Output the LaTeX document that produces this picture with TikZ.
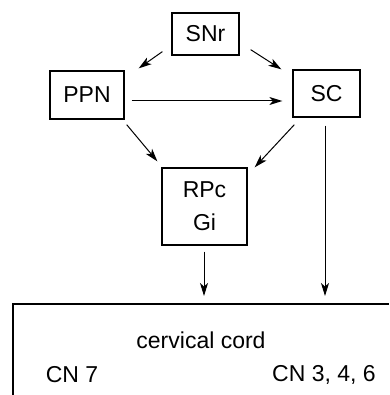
\documentclass[tikz,border=0pt]{standalone}
\usepackage{fontspec}
\setmainfont{Liberation Sans}
\usetikzlibrary{arrows.meta,calc}
\tikzset{
  box/.style={draw, line width=1.3pt, inner sep=0pt, font=\fontsize{23}{33}\selectfont, align=center},
  lbl/.style={inner sep=0pt, font=\fontsize{23}{27}\selectfont},
  arr/.style={line width=1pt, -{Stealth[length=13pt,width=8pt,inset=3.5pt]}},
  edge/.style={line width=1.2pt}
}
\begin{document}
\begin{tikzpicture}[x=1pt,y=-1pt]
\useasboundingbox (0,0) rectangle (389,395);
\node[box, minimum width=67pt, minimum height=42pt] (snr) at (205.5,34) {SNr};
\node[box, minimum width=74pt, minimum height=48pt] (ppn) at (87,95) {PPN};
\node[box, minimum width=67pt, minimum height=47pt] (sc) at (326.5,93.5) {SC};
\node[box, minimum width=85pt, minimum height=77pt] (rpc) at (204.5,206.5) {RPc\\Gi};
\coordinate (cordtl) at (13,304);
\coordinate (cordbl) at (13,395);
\coordinate (cordtr) at (389,304);
\draw[edge] (cordbl) -- (cordtl) -- (cordtr);
\node[lbl] (cerv) at (201,340) {cervical cord};
\node[lbl] (cn7) at (72,375) {CN 7};
\node[lbl] (cn346) at (324,375) {CN 3, 4, 6};
\coordinate (rpcin) at (204,296);
\coordinate (scin) at (325,296);
\draw[arr] ($(snr.south west)+(-9,-4)$) -- ($(ppn.north east)+(14,-2)$);
\draw[arr] ($(snr.south east)+(11,-6)$) -- ($(sc.north west)+(-11,0)$);
\draw[arr] ($(ppn.east)+(7,6)$) -- ($(sc.west)+(-10,7.5)$);
\draw[arr] ($(ppn.south east)+(2,5)$) -- ($(rpc.north west)+(-4,-6)$);
\draw[arr] ($(sc.south west)+(2,7)$) -- ($(rpc.north east)+(7,0)$);
\draw[arr] ($(rpc.south)+(-0.5,6)$) -- (rpcin);
\draw[arr] ($(sc.south)+(-1.5,8)$) -- (scin);
\end{tikzpicture}
\end{document}
